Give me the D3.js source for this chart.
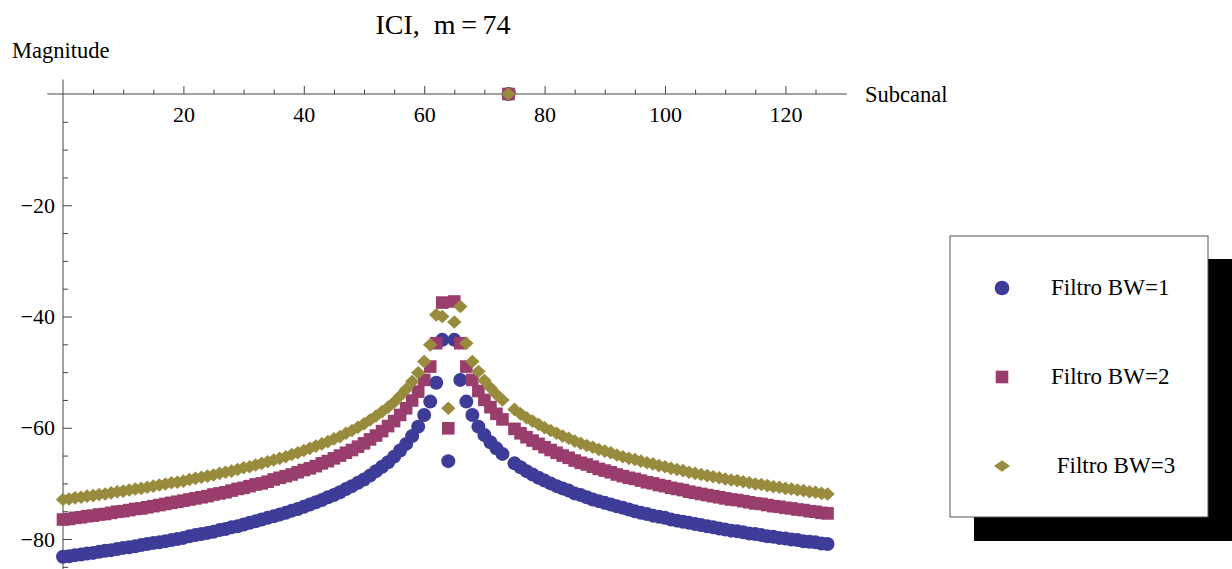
<!DOCTYPE html>
<html><head><meta charset="utf-8">
<script src="https://cdn.jsdelivr.net/npm/d3@7/dist/d3.min.js"></script>
<style>
html,body{margin:0;padding:0;background:#fff;}
text{font-family:"Liberation Serif","Times New Roman",serif;fill:#000;}
</style></head>
<body>
<svg id="chart" width="1232" height="569"></svg>
<script>
const title = "ICI,  m\u2009=\u200974";
const xLabel = "Subcanal";
const yLabel = "Magnitude";
const seriesNames = ["Filtro BW=1", "Filtro BW=2", " Filtro BW=3"];
const seriesColors = ["#3d3d99", "#993d6d", "#998b3d"];
const xMajorTicks = [20, 40, 60, 80, 100, 120];
const yMajorTicks = [-20, -40, -60, -80];

const bw1 = [
-83.2,-83.1,-82.9,-82.8,-82.6,-82.5,-82.3,-82.1,-82.0,-81.8,
-81.6,-81.5,-81.3,-81.1,-80.9,-80.7,-80.6,-80.4,-80.2,-80.0,
-79.8,-79.5,-79.3,-79.1,-78.9,-78.7,-78.4,-78.2,-77.9,-77.7,
-77.4,-77.1,-76.8,-76.5,-76.2,-75.9,-75.6,-75.3,-74.9,-74.6,
-74.2,-73.8,-73.4,-73.0,-72.5,-72.1,-71.6,-71.0,-70.5,-69.9,
-69.3,-68.6,-67.8,-67.0,-66.2,-65.2,-64.1,-62.9,-61.5,-59.8,
-57.7,-55.3,-51.9,-44.2,-66.0,-44.2,-51.4,-55.3,-57.7,-59.8,
-61.3,-62.6,-63.7,-64.7,0,-66.4,-67.1,-67.8,-68.4,-69.0,
-69.5,-70.0,-70.5,-70.9,-71.3,-71.8,-72.1,-72.5,-72.9,-73.2,
-73.5,-73.8,-74.1,-74.4,-74.7,-75.0,-75.3,-75.5,-75.8,-76.0,
-76.2,-76.5,-76.7,-76.9,-77.1,-77.3,-77.5,-77.7,-77.9,-78.1,
-78.3,-78.5,-78.6,-78.8,-79.0,-79.1,-79.3,-79.5,-79.6,-79.8,
-79.9,-80.1,-80.2,-80.4,-80.5,-80.6,-80.8,-80.9
];
const bw2 = [
-76.5,-76.4,-76.2,-76.1,-75.9,-75.8,-75.6,-75.5,-75.3,-75.1,
-75.0,-74.8,-74.6,-74.5,-74.3,-74.1,-73.9,-73.7,-73.5,-73.3,
-73.1,-72.9,-72.7,-72.5,-72.3,-72.0,-71.8,-71.6,-71.3,-71.0,
-70.8,-70.5,-70.2,-70.0,-69.7,-69.3,-69.0,-68.7,-68.4,-68.0,
-67.6,-67.3,-66.9,-66.4,-66.0,-65.5,-65.0,-64.5,-64.0,-63.4,
-62.8,-62.1,-61.4,-60.6,-59.7,-58.8,-57.7,-56.5,-55.1,-53.5,
-51.4,-49.0,-44.8,-37.5,-60.1,-37.3,-44.8,-49.0,-51.4,-53.4,
-55.0,-56.3,-57.5,-58.5,0,-60.2,-61.0,-61.7,-62.3,-62.9,
-63.5,-64.0,-64.5,-65.0,-65.4,-65.9,-66.3,-66.6,-67.0,-67.4,
-67.7,-68.0,-68.4,-68.7,-69.0,-69.2,-69.5,-69.8,-70.0,-70.3,
-70.5,-70.8,-71.0,-71.2,-71.5,-71.7,-71.9,-72.1,-72.3,-72.5,
-72.7,-72.9,-73.0,-73.2,-73.4,-73.6,-73.7,-73.9,-74.1,-74.2,
-74.4,-74.5,-74.7,-74.8,-75.0,-75.1,-75.3,-75.4
];
const bw3 = [
-72.9,-72.8,-72.6,-72.5,-72.3,-72.2,-72.0,-71.9,-71.7,-71.5,
-71.4,-71.2,-71.0,-70.9,-70.7,-70.5,-70.3,-70.1,-69.9,-69.8,
-69.6,-69.3,-69.1,-68.9,-68.7,-68.5,-68.2,-68.0,-67.8,-67.5,
-67.2,-67.0,-66.7,-66.4,-66.1,-65.8,-65.5,-65.2,-64.8,-64.5,
-64.1,-63.7,-63.3,-62.9,-62.5,-62.0,-61.6,-61.0,-60.5,-59.9,
-59.3,-58.6,-57.9,-57.1,-56.3,-55.4,-54.3,-53.1,-51.7,-50.1,
-48.1,-45.1,-39.7,-40.0,-56.5,-41.0,-38.2,-44.8,-48.1,-49.9,
-51.5,-52.8,-54.0,-55.0,0,-56.7,-57.5,-58.2,-58.8,-59.4,
-60.0,-60.5,-61.0,-61.5,-61.9,-62.4,-62.8,-63.2,-63.5,-63.9,
-64.2,-64.5,-64.9,-65.2,-65.5,-65.7,-66.0,-66.3,-66.5,-66.8,
-67.0,-67.3,-67.5,-67.7,-68.0,-68.2,-68.4,-68.6,-68.8,-69.0,
-69.2,-69.4,-69.5,-69.7,-69.9,-70.1,-70.2,-70.4,-70.6,-70.7,
-70.9,-71.0,-71.2,-71.3,-71.5,-71.6,-71.8,-71.9
];

const FONT = '"Liberation Serif","Times New Roman",serif';
const svg = d3.select("#chart");
const x = d3.scaleLinear().domain([0, 120]).range([63, 785.4]);
const y = d3.scaleLinear().domain([0, -80]).range([94, 539]);

// Title and labels
svg.append("text").attr("x", 443).attr("y", 34).attr("text-anchor", "middle")
  .attr("font-family", FONT).style("font-size", "28px").style("white-space", "pre").text(title);
svg.append("text").attr("x", 12).attr("y", 58).attr("font-family", FONT).style("font-size", "22.5px").text(yLabel);
svg.append("text").attr("x", 865).attr("y", 102).attr("font-family", FONT).style("font-size", "22.5px").text(xLabel);

const axisColor = "#444";
// x axis
const gx = svg.append("g").attr("transform", `translate(0,${y(0)})`);
gx.call(d3.axisBottom(x).tickValues(d3.range(5, 130, 5).filter(v => v % 20 !== 0)).tickSize(-4.5).tickFormat(""));
gx.call(g => g.append("g").call(d3.axisBottom(x).tickValues(xMajorTicks).tickSize(-8).tickPadding(12).tickFormat(d3.format("d"))));
gx.selectAll(".domain").remove();
gx.selectAll("g").attr("font-family", FONT);
gx.selectAll("line").attr("stroke", axisColor);
gx.selectAll("text").style("font-size", "22px").attr("fill", "#000").attr("font-family", FONT);
gx.append("line").attr("x1", x(-2.6)).attr("x2", x(130.2)).attr("stroke", axisColor);

// y axis
const gy = svg.append("g").attr("transform", `translate(${x(0)},0)`);
gy.call(d3.axisLeft(y).tickValues(d3.range(-5, -90, -5).filter(v => v % 20 !== 0)).tickSize(-5).tickFormat(""));
gy.call(g => g.append("g").call(d3.axisLeft(y).tickValues(yMajorTicks).tickSize(-9).tickPadding(8).tickFormat(d3.format("d"))));
gy.selectAll(".domain").remove();
gy.selectAll("g").attr("font-family", FONT);
gy.selectAll("line").attr("stroke", axisColor);
gy.selectAll("text").style("font-size", "22px").attr("fill", "#000").attr("font-family", FONT);
gy.append("line").attr("y1", y(2.6)).attr("y2", 569).attr("stroke", axisColor);

// markers
function drawMarker(g, kind, cx, cy, color, s) {
  if (kind === 0) {
    g.append("circle").attr("cx", cx).attr("cy", cy).attr("r", 7 * s).attr("fill", color);
  } else if (kind === 1) {
    const h = 6.3 * s;
    g.append("rect").attr("x", cx - h).attr("y", cy - h).attr("width", 2 * h).attr("height", 2 * h).attr("fill", color);
  } else {
    const w = 7.2 * s, hh = 6.8 * s;
    g.append("path").attr("d", `M${cx - w},${cy}L${cx},${cy - hh}L${cx + w},${cy}L${cx},${cy + hh}Z`).attr("fill", color);
  }
}
const allSeries = [bw1, bw2, bw3];
allSeries.forEach((vals, si) => {
  const g = svg.append("g");
  vals.forEach((v, i) => drawMarker(g, si, x(i), y(v), seriesColors[si], 1));
});

// legend
const lg = svg.append("g");
lg.append("rect").attr("x", 974).attr("y", 259).attr("width", 258).attr("height", 282).attr("fill", "#000");
lg.append("rect").attr("x", 950).attr("y", 236).attr("width", 258).attr("height", 281)
  .attr("fill", "#fff").attr("stroke", "#555").attr("stroke-width", 1);
seriesNames.forEach((name, i) => {
  const cy = 288 + i * 89;
  if (i === 2) {
    lg.append("path").attr("d", `M${1002 - 8},${cy}L${1002},${cy - 5.7}L${1002 + 8},${cy}L${1002},${cy + 5.7}Z`).attr("fill", seriesColors[i]);
  } else {
    drawMarker(lg, i, 1002, cy, seriesColors[i], i === 0 ? 1.05 : 1.0);
  }
  lg.append("text").attr("x", 1051).attr("y", cy + 7).attr("font-family", FONT).style("font-size", "23px")
    .style("white-space", "pre").text(name);
});
</script>
</body></html>
